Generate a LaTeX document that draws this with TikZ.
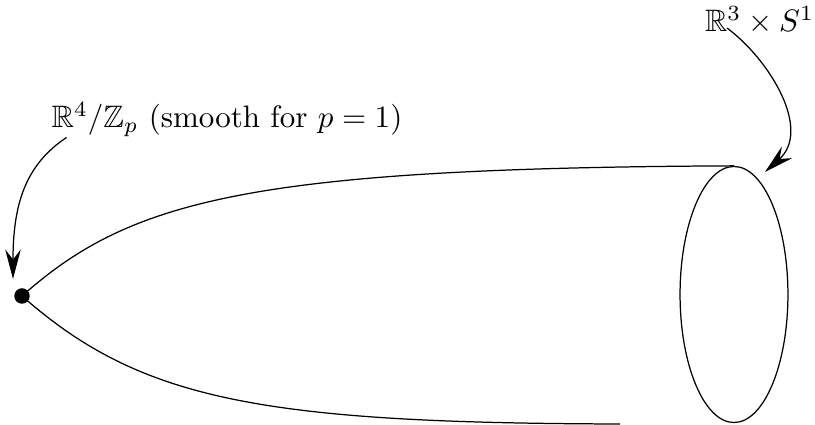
\documentclass[tikz,border=0pt]{standalone}
\usepackage{amsmath,amssymb}
\usepackage{tikz}
\usetikzlibrary{arrows.meta,shapes.geometric}

\begin{document}
\begin{tikzpicture}[x=0.3226pt,y=-0.3226pt,
  tip/.style={circle,fill=black,inner sep=0pt,minimum size=5pt},
  neckbox/.style={ellipse,draw,inner sep=0pt,minimum width=34.8pt,minimum height=82.6pt},
  lbl/.style={inner sep=0pt,anchor=base},
  arr/.style={-{Stealth[length=9.5pt,width=5pt,inset=3.2pt]}}
]
\useasboundingbox (0,0) rectangle (815,425);
\node[tip] (apex) at (22,296) {};
\node[neckbox] (neck) at (734,294.5) {};
\coordinate (lowend) at (620,424);
\node[lbl] (orb) at (227,128) {$\mathbb{R}^4/\mathbb{Z}_p$ (smooth for $p=1$)};
\node[lbl] (asym) at (759.5,32) {$\mathbb{R}^3\times S^1$};
\coordinate (orbtip) at (13,279);
\coordinate (asymtip) at (765,172);
\coordinate (asymstart) at (727,28);
% cigar profile
\draw (apex.center) .. controls (130,200) and (250,168) .. (neck.north);
\draw (apex.center) .. controls (140,400) and (260,423) .. (lowend);
% labels
\draw[arr] ([xshift=5pt]orb.south west) .. controls (25,165) and (13,205) .. (orbtip);
\draw[arr] (asymstart) .. controls (770,60) and (812,130) .. (asymtip);
\end{tikzpicture}
\end{document}
